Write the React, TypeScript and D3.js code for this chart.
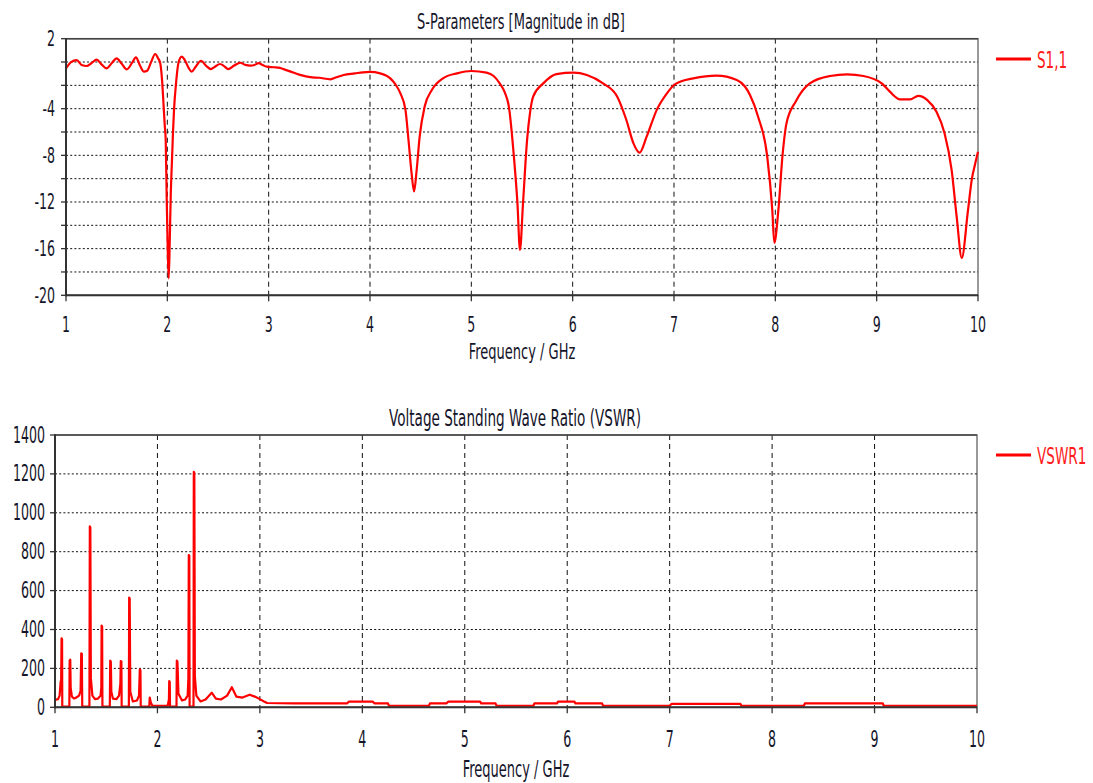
import React from "react";
import * as d3 from "d3";

// ---------- data ----------
const freqTicks = [1, 2, 3, 4, 5, 6, 7, 8, 9, 10];
const s11TickLabels = [2, -4, -8, -12, -16, -20];
const s11GridLines = [0, -2, -4, -6, -8, -10, -12, -14, -16, -18];
const s11MinorTicks = [2, 0, -2, -4, -6, -8, -10, -12, -14, -16, -18, -20];
const vswrTickLabels = [0, 200, 400, 600, 800, 1000, 1200, 1400];
const vswrGridLines = [200, 400, 600, 800, 1000, 1200];

const s11Title = "S-Parameters [Magnitude in dB]";
const vswrTitle = "Voltage Standing Wave Ratio (VSWR)";
const xAxisLabel = "Frequency / GHz";
const s11Legend = "S1,1";
const vswrLegend = "VSWR1";

// S1,1 magnitude in dB: [GHz, dB]
const s11Points: [number, number][] = [
  [1.0, -0.55], [1.05, 0.0], [1.105, 0.17], [1.155, -0.25], [1.204, -0.34],
  [1.25, -0.1], [1.303, 0.2], [1.35, -0.2], [1.4, -0.54], [1.45, -0.1],
  [1.5, 0.32], [1.55, -0.15], [1.6, -0.63], [1.65, -0.1], [1.69, 0.4],
  [1.73, -0.3], [1.77, -0.83], [1.8, -0.75], [1.84, 0.0], [1.88, 0.69],
  [1.91, 0.3], [1.93, -0.1], [1.95, -1.8], [1.96, -3.26], [1.975, -5.5],
  [1.984, -6.7], [1.994, -11.8], [2.004, -16], [2.014, -18.55], [2.024, -15.3],
  [2.034, -11.3], [2.046, -8.4], [2.056, -6.0], [2.066, -4.1], [2.086, -1.8],
  [2.109, -0.1], [2.142, 0.46], [2.17, 0.2], [2.21, -0.5], [2.24, -0.83],
  [2.28, -0.4], [2.333, 0.11], [2.38, -0.3], [2.43, -0.6], [2.47, -0.4],
  [2.52, -0.17], [2.56, -0.35], [2.6, -0.6], [2.66, -0.3], [2.72, -0.06],
  [2.77, -0.25], [2.82, -0.3], [2.86, -0.25], [2.9, -0.1], [2.94, -0.25],
  [2.98, -0.4], [3.05, -0.45], [3.11, -0.5], [3.16, -0.65], [3.21, -0.8],
  [3.31, -1.1], [3.41, -1.3], [3.5, -1.35], [3.61, -1.48], [3.67, -1.3],
  [3.74, -1.11], [3.85, -0.98], [3.93, -0.88], [4.0, -0.85], [4.1, -0.97],
  [4.2, -1.4], [4.25, -1.9], [4.3, -2.69], [4.35, -4.1], [4.38, -6.7],
  [4.41, -9.5], [4.435, -11.1], [4.46, -9.3], [4.49, -6.4], [4.54, -3.8],
  [4.61, -2.4], [4.72, -1.4], [4.86, -0.97], [5.0, -0.77], [5.15, -0.91],
  [5.22, -1.2], [5.28, -1.83], [5.33, -2.6], [5.37, -3.8], [5.42, -8.1],
  [5.455, -12.1], [5.48, -16.1], [5.51, -12.1], [5.55, -6.7], [5.58, -4.3],
  [5.61, -2.97], [5.71, -1.83], [5.84, -1.03], [6.01, -0.91], [6.14, -1.11],
  [6.3, -1.83], [6.44, -2.97], [6.53, -4.97], [6.6, -6.97], [6.66, -7.77],
  [6.73, -6.4], [6.83, -4.1], [6.93, -2.69], [7.0, -1.97], [7.06, -1.69],
  [7.19, -1.4], [7.42, -1.17], [7.62, -1.54], [7.7, -2.1], [7.75, -2.83],
  [7.83, -4.69], [7.92, -8.1], [7.97, -12.7], [7.99, -15.5], [8.03, -12.7],
  [8.07, -8.1], [8.11, -5.26], [8.2, -3.4], [8.34, -1.83], [8.54, -1.2],
  [8.71, -1.06], [8.87, -1.2], [9.05, -1.83], [9.13, -2.54], [9.23, -3.2],
  [9.33, -3.2], [9.41, -2.91], [9.5, -3.26], [9.59, -4.26], [9.67, -6.11],
  [9.74, -9.26], [9.79, -13.3], [9.84, -16.8], [9.9, -12.8], [9.94, -10.0],
  [9.97, -8.8], [10.0, -7.7],
];

// VSWR: [GHz, VSWR]
const vswrPoints: [number, number][] = [
  [1.0, 38], [1.03, 42], [1.045, 60], [1.055, 130], [1.06, 140],
  [1.064, 355], [1.069, 350], [1.071, 3], [1.14, 3], [1.143, 240],
  [1.149, 245], [1.153, 100], [1.165, 55], [1.185, 45], [1.2, 48],
  [1.235, 60], [1.25, 85], [1.256, 278], [1.262, 275], [1.266, 3],
  [1.336, 3], [1.34, 930], [1.345, 925], [1.35, 150], [1.365, 60],
  [1.39, 42], [1.42, 45], [1.445, 60], [1.452, 100], [1.455, 420],
  [1.46, 415], [1.463, 3], [1.535, 3], [1.539, 240], [1.545, 235],
  [1.55, 80], [1.565, 45], [1.6, 42], [1.625, 60], [1.638, 120],
  [1.642, 238], [1.648, 235], [1.651, 3], [1.721, 3], [1.724, 564],
  [1.729, 560], [1.735, 80], [1.76, 30], [1.8, 35], [1.82, 60],
  [1.828, 195], [1.834, 190], [1.837, 3], [1.92, 3], [1.925, 50],
  [1.935, 25], [1.95, 8], [2.1, 8], [2.112, 40], [2.115, 135],
  [2.12, 130], [2.123, 3], [2.186, 3], [2.189, 240], [2.195, 235],
  [2.205, 70], [2.24, 35], [2.27, 40], [2.295, 60], [2.302, 150],
  [2.306, 783], [2.311, 780], [2.314, 3], [2.352, 3], [2.355, 1211],
  [2.36, 1205], [2.365, 160], [2.38, 60], [2.42, 30], [2.47, 40],
  [2.53, 75], [2.57, 45], [2.62, 40], [2.68, 60], [2.726, 103],
  [2.77, 55], [2.83, 50], [2.9, 65], [2.95, 55], [3.0, 42],
  [3.04, 30], [3.07, 22], [3.33, 20], [3.85, 20], [3.87, 29],
  [4.1, 29], [4.12, 20], [4.25, 20], [4.26, 8], [4.65, 8],
  [4.66, 20], [4.82, 20], [4.84, 29], [5.15, 29], [5.16, 20],
  [5.3, 20], [5.31, 8], [5.67, 8], [5.68, 20], [5.9, 20],
  [5.91, 29], [6.07, 29], [6.08, 20], [6.34, 20], [6.35, 8],
  [7.0, 8], [7.02, 18], [7.69, 18], [7.7, 8], [8.31, 8],
  [8.32, 20], [9.08, 20], [9.09, 8], [10.0, 8],
];

// ---------- helpers ----------
const FONT = "DejaVu Sans, Verdana, sans-serif";
const TXT = "#15152a";

function Label({ x, y, anchor = "middle", size = 14, sx = 0.9, sy = 1.55, fill = TXT, children }: any) {
  return (
    <text
      transform={`translate(${x},${y}) scale(${sx},${sy})`}
      textAnchor={anchor}
      fontSize={size}
      fontFamily={FONT}
      fill={fill}
    >
      {children}
    </text>
  );
}

function Panel({ left, right, top, bottom, yDomain, gridY, tickLabelsY, minorTicksY, points, curve, title, titleSx, legend, yLabelX, xLabelDy, axisLabelDy, sy }: any) {
  const x = d3.scaleLinear().domain([1, 10]).range([left, right]);
  const y = d3.scaleLinear().domain(yDomain).range([bottom, top]);
  const line = d3
    .line<[number, number]>()
    .x((d) => x(d[0]))
    .y((d) => y(d[1]))
    .curve(curve);
  const cx = (left + right) / 2;
  return (
    <g>
      {/* title */}
      <Label x={cx - 1} y={top - 9.5} sx={titleSx} sy={sy}>{title}</Label>
      {/* frame */}
      <rect x={left} y={top} width={right - left} height={bottom - top} fill="white" stroke="#777" strokeWidth={1.5} />
      {/* horizontal grid */}
      {gridY.map((v: number) => (
        <line key={"h" + v} x1={left} x2={right} y1={y(v)} y2={y(v)} stroke="#111" strokeWidth={1} strokeDasharray="2,2.2" />
      ))}
      {/* vertical grid */}
      {freqTicks.slice(1, -1).map((f) => (
        <line key={"v" + f} x1={x(f)} x2={x(f)} y1={top} y2={bottom} stroke="#111" strokeWidth={1} strokeDasharray="5,4" />
      ))}
      {/* top border darker */}
      <line x1={left} x2={right} y1={top} y2={top} stroke="#444" strokeWidth={1.5} />
      {/* data */}
      <path d={line(points) || ""} fill="none" stroke="#ff0000" strokeWidth={2.2} strokeLinejoin="round" />
      {/* axes */}
      <line x1={left} x2={left} y1={top - 0.7} y2={bottom + 1} stroke="#333" strokeWidth={2} />
      <line x1={left - 1} x2={right} y1={bottom} y2={bottom} stroke="#333" strokeWidth={2} />
      {/* y ticks */}
      {minorTicksY.map((v: number) => (
        <line key={"yt" + v} x1={left - 5} x2={left} y1={y(v)} y2={y(v)} stroke="#333" strokeWidth={1.3} />
      ))}
      {tickLabelsY.map((v: number) => (
        <Label key={"yl" + v} x={yLabelX} y={y(v) + 7.5} anchor="end" sy={sy}>{String(v)}</Label>
      ))}
      {/* x ticks */}
      {freqTicks.map((f) => (
        <line key={"xt" + f} x1={x(f)} x2={x(f)} y1={bottom} y2={bottom + 6} stroke="#333" strokeWidth={1.3} />
      ))}
      {freqTicks.map((f) => (
        <Label key={"xl" + f} x={x(f)} y={bottom + xLabelDy} sy={sy}>{String(f)}</Label>
      ))}
      <Label x={cx} y={bottom + axisLabelDy} sx={0.93} sy={sy}>{xAxisLabel}</Label>
      {/* legend */}
      <line x1={996} x2={1031} y1={legend.y} y2={legend.y} stroke="#ff0000" strokeWidth={3} />
      <Label x={1037} y={legend.y + 9} anchor="start" fill="#ff1a1a" sx={0.97} sy={1.65}>{legend.text}</Label>
    </g>
  );
}

export default function App() {
  return (
    <svg
      width={1093}
      height={783}
      style={{ position: "absolute", left: 0, top: 0, background: "white" }}
    >
      <rect width={1093} height={783} fill="white" />
      <Panel
        left={66}
        right={978}
        top={38.7}
        bottom={295.3}
        yDomain={[-20, 2]}
        gridY={s11GridLines}
        tickLabelsY={s11TickLabels}
        minorTicksY={s11MinorTicks}
        points={s11Points}
        curve={d3.curveMonotoneX}
        title={s11Title}
        titleSx={0.93}
        legend={{ y: 59, text: s11Legend }}
        yLabelX={55}
        xLabelDy={36.5}
        axisLabelDy={64}
        sy={1.55}
      />
      <Panel
        left={55}
        right={977}
        top={435}
        bottom={707.3}
        yDomain={[0, 1400]}
        gridY={vswrGridLines}
        tickLabelsY={vswrTickLabels}
        minorTicksY={vswrTickLabels}
        points={vswrPoints}
        curve={d3.curveLinear}
        title={vswrTitle}
        titleSx={0.97}
        legend={{ y: 455, text: vswrLegend }}
        yLabelX={45}
        xLabelDy={39.5}
        axisLabelDy={70}
        sy={1.62}
      />
    </svg>
  );
}
